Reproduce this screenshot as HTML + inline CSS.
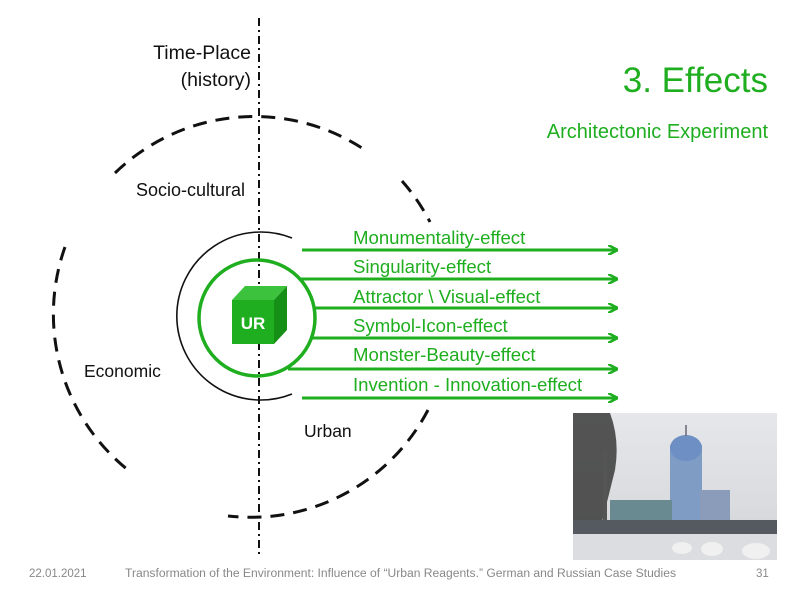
<!DOCTYPE html>
<html><head><meta charset="utf-8"><style>
html,body{margin:0;padding:0;background:#fff;width:800px;height:600px;overflow:hidden}
svg{display:block;font-family:"Liberation Sans",sans-serif}
</style></head><body>
<svg width="800" height="600" viewBox="0 0 800 600" xmlns="http://www.w3.org/2000/svg">
<defs>
<marker id="ah" markerWidth="10" markerHeight="10" refX="9" refY="5" orient="auto" markerUnits="userSpaceOnUse">
<path d="M0,0 L10,5 L0,10" fill="none" stroke="#1fae1f" stroke-width="2.5"/>
</marker>
<linearGradient id="sky" x1="0" y1="0" x2="0" y2="1">
<stop offset="0" stop-color="#e6e7ea"/><stop offset="0.7" stop-color="#d8dade"/><stop offset="1" stop-color="#b8bcc2"/>
</linearGradient>
</defs>
<line x1="259" y1="18" x2="259" y2="556" stroke="#111" stroke-width="2" stroke-dasharray="8,4,2,4"/>
<g fill="none" stroke="#111" stroke-width="3" stroke-dasharray="14,9">
<path d="M115,173 A200,200 0 0 1 362,148"/>
<path d="M402,181 A200,200 0 0 1 430,222"/>
<path d="M65,247 A200,200 0 0 0 128,470"/>
<path d="M428,410 A200,200 0 0 1 228,516"/>
</g>
<path d="M292,238 A84,84 0 1 0 292,394" fill="none" stroke="#111" stroke-width="1.6"/>
<circle cx="257" cy="318" r="58" fill="none" stroke="#1fae1f" stroke-width="3.5"/>
<polygon points="232,300 245,286 287,286 274,300" fill="#3cc23c"/>
<polygon points="274,300 287,286 287,330 274,344" fill="#158f15"/>
<rect x="232" y="300" width="42" height="44" fill="#1fae1f"/>
<text x="253" y="329" font-size="17" font-weight="bold" fill="#fff" text-anchor="middle">UR</text>
<g stroke="#1fae1f" stroke-width="3" marker-end="url(#ah)">
<line x1="302" y1="250" x2="617" y2="250"/>
<line x1="300" y1="279" x2="617" y2="279"/>
<line x1="314" y1="308" x2="617" y2="308"/>
<line x1="312" y1="338" x2="617" y2="338"/>
<line x1="288" y1="369" x2="617" y2="369"/>
<line x1="302" y1="398" x2="617" y2="398"/>
</g>
<g fill="#1fae1f" font-size="18.6">
<text x="353" y="244">Monumentality-effect</text>
<text x="353" y="273">Singularity-effect</text>
<text x="353" y="303">Attractor \ Visual-effect</text>
<text x="353" y="332">Symbol-Icon-effect</text>
<text x="353" y="361">Monster-Beauty-effect</text>
<text x="353" y="391">Invention - Innovation-effect</text>
</g>
<g fill="#111">
<text x="251" y="59" text-anchor="end" font-size="19.5">Time-Place</text>
<text x="251" y="86" text-anchor="end" font-size="19.5">(history)</text>
<text x="136" y="196" font-size="18">Socio-cultural</text>
<text x="84" y="377" font-size="17.5">Economic</text>
<text x="304" y="437" font-size="17.5">Urban</text>
</g>
<text x="768" y="92" font-size="35" fill="#1fae1f" text-anchor="end">3. Effects</text>
<text x="768" y="138" font-size="20" fill="#1fae1f" text-anchor="end">Architectonic Experiment</text>
<g>
<rect x="573" y="413" width="204" height="147" fill="url(#sky)"/>
<rect x="670" y="445" width="32" height="80" fill="#7f9cc4"/>
<ellipse cx="686" cy="448" rx="16" ry="13" fill="#6d8fc3"/>
<line x1="686" y1="425" x2="686" y2="436" stroke="#667" stroke-width="1.5"/>
<rect x="700" y="490" width="30" height="35" fill="#8a9cba"/>
<rect x="610" y="500" width="62" height="25" fill="#6a8a92"/>
<path d="M573,413 L610,413 Q620,440 615,470 L600,530 L573,540 Z" fill="#3a3a3a" opacity="0.85"/>
<rect x="603" y="450" width="4" height="110" fill="#555"/>
<rect x="573" y="520" width="204" height="14" fill="#555a60"/>
<rect x="573" y="534" width="204" height="26" fill="#dcdde0"/>
<g fill="#f0f0f0"><ellipse cx="682" cy="548" rx="10" ry="6"/><ellipse cx="712" cy="549" rx="11" ry="7"/><ellipse cx="756" cy="551" rx="14" ry="8"/></g>
</g>
<g fill="#888" font-size="11.5">
<text x="29" y="577">22.01.2021</text>
<text x="125" y="577" textLength="551" lengthAdjust="spacingAndGlyphs">Transformation of the Environment: Influence of “Urban Reagents.” German and Russian Case Studies</text>
<text x="756" y="577">31</text>
</g>
</svg>
</body></html>
